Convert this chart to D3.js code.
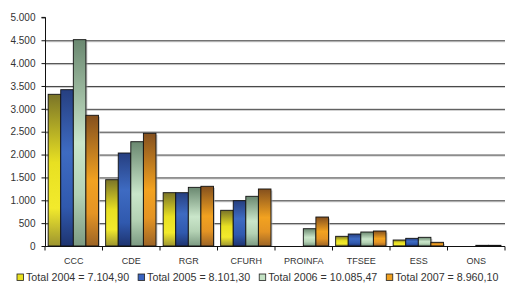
<!DOCTYPE html>
<html><head><meta charset="utf-8">
<script src="https://cdn.jsdelivr.net/npm/d3@7"></script>
<style>body{margin:0;background:#fff}text{font-family:"Liberation Sans",Arial,sans-serif}</style>
</head><body><svg id="c" width="508" height="295"></svg>
<script>
const categories = ["CCC","CDE","RGR","CFURH","PROINFA","TFSEE","ESS","ONS"];
const seriesNames = ["Total 2004 = 7.104,90","Total 2005 = 8.101,30","Total 2006 = 10.085,47","Total 2007 = 8.960,10"];
const v2004 = [3318,1450,1166,781,0,212,131,0];
const v2005 = [3419,2034,1166,991,0,262,168,0];
const v2006 = [4513,2281,1283,1087,378,306,190,15];
const v2007 = [2859,2465,1306,1247,634,328,81,15];
const yTicks = [0,500,1000,1500,2000,2500,3000,3500,4000,4500,5000];

const series = [v2004,v2005,v2006,v2007];
const grads = [
  [["0%","#7a7428"],["45%","#e8e022"],["75%","#f2ea2c"],["100%","#9c9430"]],
  [["0%","#263f80"],["40%","#3e6bc2"],["75%","#3059ae"],["100%","#1e3470"]],
  [["0%","#6a8870"],["50%","#cae6ca"],["75%","#b4d2b4"],["100%","#7c9a82"]],
  [["0%","#84501e"],["50%","#f2a220"],["75%","#e49424"],["100%","#9c6426"]]
];
const legendCols = ["#e8e020","#3a64c0","#c4e2c4","#f0a020"];

const svg = d3.select("#c");
const defs = svg.append("defs");
grads.forEach((g,i)=>{
  const lg = defs.append("linearGradient").attr("id","g"+i).attr("x1",0).attr("y1",0).attr("x2",0).attr("y2",1);
  g.forEach(s=>lg.append("stop").attr("offset",s[0]).attr("stop-color",s[1]));
});

const L=45, R=505, T=17.4, B=246;
const y = d3.scaleLinear().domain([0,5000]).range([B,T]);
const x0 = d3.scaleBand().domain(categories).range([L,R]).padding(0);
const x1 = d3.scaleBand().domain(d3.range(4)).range([x0.bandwidth()*0.055, x0.bandwidth()*0.93]).padding(0);

// gridlines
const gridVals = yTicks.filter(t=>t>0 && t<5000);
svg.append("g").selectAll("line.s").data(gridVals).join("line")
  .attr("x1",L).attr("x2",R).attr("y1",d=>y(d)+1.5).attr("y2",d=>y(d)+1.5)
  .attr("stroke","#c8c8c8").attr("stroke-width",1);
svg.append("g").selectAll("line.g").data(gridVals).join("line")
  .attr("x1",L).attr("x2",R).attr("y1",d=>y(d)+0.5).attr("y2",d=>y(d)+0.5)
  .attr("stroke","#444").attr("stroke-width",1);

// bars
const groups = svg.append("g").selectAll("g").data(categories).join("g")
  .attr("transform",d=>`translate(${x0(d)},0)`);
groups.each(function(cat,ci){
  const g = d3.select(this);
  series.forEach((vals,si)=>{
    const v = vals[ci];
    if(v<=0) return;
    const bx = x1(si), bw = x1.bandwidth();
    g.append("rect").attr("x",bx+1.5).attr("y",y(v)+1.5).attr("width",bw).attr("height",B-y(v)-1.5)
      .attr("fill","#aaa").attr("opacity",0.6);
  });
  series.forEach((vals,si)=>{
    const v = vals[ci];
    if(v<=0) return;
    const bx = x1(si), bw = x1.bandwidth();
    g.append("rect").attr("x",bx).attr("y",y(v)).attr("width",bw).attr("height",B-y(v))
      .attr("fill",`url(#g${si})`).attr("stroke","#111").attr("stroke-width",0.9);
  });
});

// y axis
const ya = svg.append("g").attr("transform",`translate(${L+0.5},0)`)
  .call(d3.axisLeft(y).tickValues(yTicks).tickSize(4).tickFormat(d=>d3.format(",")(d).replace(/,/g,".")));
ya.select(".domain").attr("stroke","#111").attr("d",`M-4,${T}H0V${B}`);
ya.selectAll(".tick line").attr("stroke","#111");
ya.selectAll("text").attr("font-size","10px").attr("fill","#333").attr("x",-10)
  .attr("font-family","Liberation Sans, Arial, sans-serif");

// x axis
const xa = svg.append("g").attr("transform",`translate(0,${B+0.5})`);
xa.append("line").attr("x1",L).attr("x2",R).attr("stroke","#111");
xa.selectAll("line.t").data(categories.concat(["end"])).join("line")
  .attr("x1",(d,i)=>L+i*x0.bandwidth()).attr("x2",(d,i)=>L+i*x0.bandwidth())
  .attr("y1",0).attr("y2",4).attr("stroke","#111");
xa.selectAll("text").data(categories).join("text")
  .attr("x",d=>x0(d)+x0.bandwidth()/2).attr("y",17.5).attr("text-anchor","middle")
  .attr("font-size","9px").attr("fill","#333").text(d=>d);

// legend
const lgd = svg.append("g").attr("transform","translate(0,281)");
let lx = 17;
seriesNames.forEach((n,i)=>{
  lgd.append("rect").attr("x",lx).attr("y",-7).attr("width",6.5).attr("height",6.5)
    .attr("fill",legendCols[i]).attr("stroke","#222").attr("stroke-width",0.8);
  const t = lgd.append("text").attr("x",lx+9).attr("y",0).attr("font-size","10.7px").attr("fill","#333").text(n);
  lx += 9 + t.node().getComputedTextLength() + 9;
});
</script></body></html>
